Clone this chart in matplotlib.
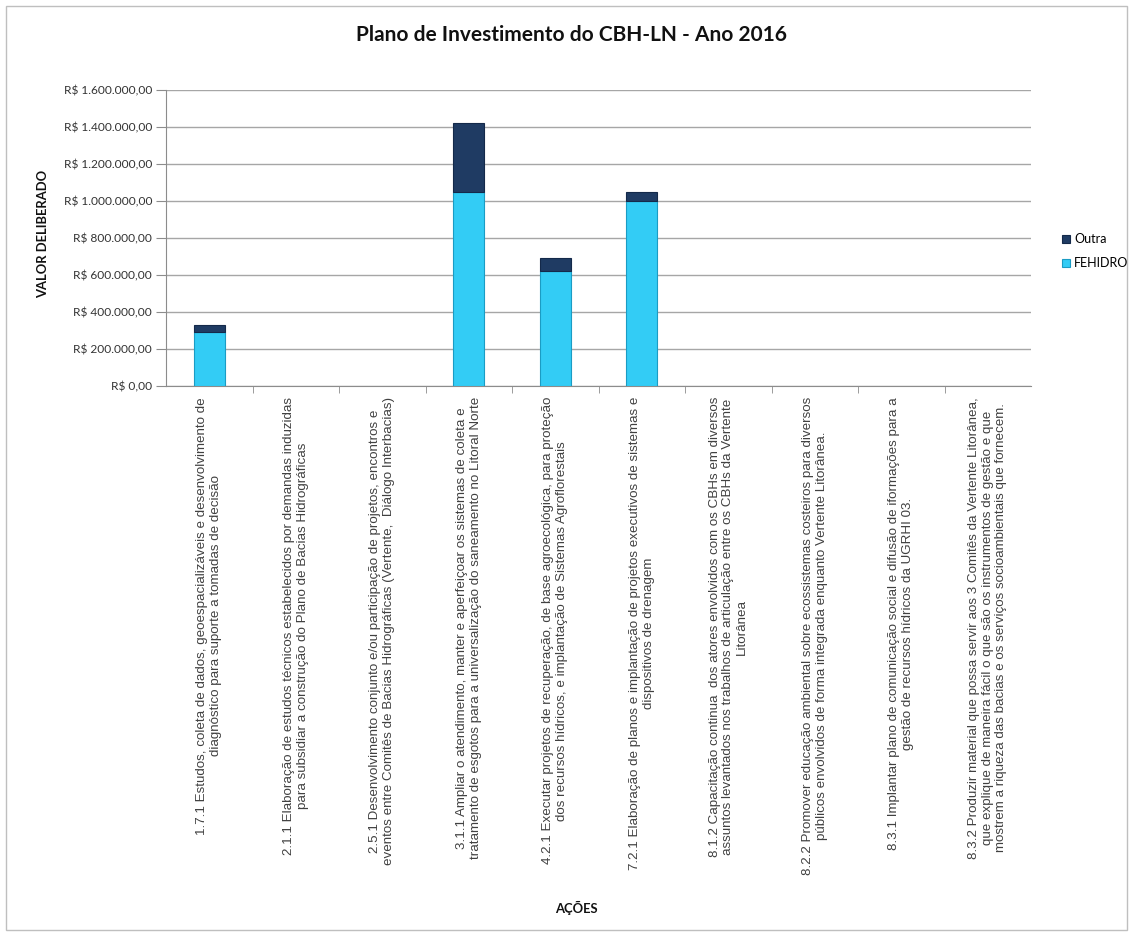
import matplotlib
matplotlib.use("Agg")
import matplotlib.pyplot as plt
from matplotlib.patches import Rectangle
from matplotlib.ticker import FuncFormatter, FixedLocator
import numpy as np

categories = [
    "1.7.1 Estudos, coleta de dados, geoespacializáveis e desenvolvimento de\ndiagnóstico para suporte a tomadas de decisão",
    "2.1.1 Elaboração de estudos técnicos estabelecidos por demandas induzidas\npara subsidiar a construção do Plano de Bacias Hidrográficas",
    "2.5.1 Desenvolvimento conjunto e/ou participação de projetos, encontros e\neventos entre Comitês de Bacias Hidrográficas (Vertente,  Diálogo Interbacias)",
    "3.1.1 Ampliar o atendimento, manter e aperfeiçoar os sistemas de coleta e\ntratamento de esgotos para a universalização do saneamento no Litoral Norte",
    "4.2.1 Executar projetos de recuperação, de base agroecológica, para proteção\ndos recursos hídricos, e implantação de Sistemas Agroflorestais",
    "7.2.1 Elaboração de planos e implantação de projetos executivos de sistemas e\ndispositivos de drenagem",
    "8.1.2 Capacitação continua  dos atores envolvidos com os CBHs em diversos\nassuntos levantados nos trabalhos de articulação entre os CBHs da Vertente\nLitorânea",
    "8.2.2 Promover educação ambiental sobre ecossistemas costeiros para diversos\npúblicos envolvidos de forma integrada enquanto Vertente Litorânea.",
    "8.3.1 Implantar plano de comunicação social e difusão de iformações para a\ngestão de recursos hídricos da UGRHI 03.",
    "8.3.2 Produzir material que possa servir aos 3 Comitês da Vertente Litorânea,\nque explique de maneira fácil o que são os instrumentos de gestão e que\nmostrem a riqueza das bacias e os serviços socioambientais que fornecem.",
]
fehidro = [290000, 0, 0, 1050000, 620000, 1000000, 0, 0, 0, 0]
outra = [40000, 0, 0, 370000, 70000, 50000, 0, 0, 0, 0]
yticks = [0, 200000, 400000, 600000, 800000, 1000000, 1200000, 1400000, 1600000]

W, H = 1133, 936
fig = plt.figure(figsize=(W / 100, H / 100), dpi=100)
fig.patch.set_facecolor("white")
fig.add_artist(Rectangle((6 / W, 6 / H), 1 - 12 / W, 1 - 12 / H, transform=fig.transFigure,
                         fill=False, edgecolor="#BFBFBF", linewidth=1))

ax = fig.add_axes([166 / W, 1 - 386 / H, (1031 - 166) / W, (386 - 90) / H])
x = np.arange(len(categories))
c_fe = "#33CCF5"
c_ou = "#1F3B63"
b1 = ax.bar(x, fehidro, width=0.36, color=c_fe, edgecolor="#1B9CC4", linewidth=0.8,
            label="FEHIDRO", zorder=3)
b2 = ax.bar(x, outra, width=0.36, bottom=fehidro, color=c_ou, edgecolor="#14294A",
            linewidth=0.8, label="Outra", zorder=3)
for bars in (b1, b2):
    for r in bars:
        if r.get_height() == 0:
            r.set_linewidth(0)

ax.set_xlim(-0.5, len(categories) - 0.5)
ax.set_ylim(0, 1600000)
ax.set_yticks(yticks)
ax.yaxis.set_major_formatter(FuncFormatter(
    lambda v, p: "R$ " + f"{v:,.2f}".replace(",", "X").replace(".", ",").replace("X", ".")))
ax.grid(axis="y", color="#A6A6A6", linewidth=1, zorder=0)
ax.set_axisbelow(True)
for s in ["top", "right"]:
    ax.spines[s].set_visible(False)
for s in ["left", "bottom"]:
    ax.spines[s].set_color("#8C8C8C")
ax.tick_params(axis="y", length=7, color="#8C8C8C", labelsize=8.6, pad=3)
for lab in ax.get_yticklabels():
    lab.set_fontfamily("Lato")
    lab.set_color("#333333")

ax.set_xticks(x)
ax.set_xticklabels([])
ax.tick_params(axis="x", which="major", length=0)
ax.xaxis.set_minor_locator(FixedLocator(np.arange(0.5, len(categories) - 0.5, 1)))
ax.tick_params(axis="x", which="minor", length=5, color="#8C8C8C")

for xi, lab in zip(x, categories):
    ax.annotate(lab, xy=(xi, 0), xycoords=("data", "axes fraction"),
                xytext=(0, -8), textcoords="offset points",
                rotation=90, ha="center", va="top", multialignment="center",
                fontsize=9.6, linespacing=1.18, family="Liberation Sans", color="#404040")

fig.text(572 / W, 1 - 35 / H, "Plano de Investimento do CBH-LN - Ano 2016", ha="center",
         va="center", fontsize=15, fontweight="bold", family="Lato", color="#111111")
fig.text(43 / W, 1 - 234 / H, "VALOR DELIBERADO", rotation=90, ha="center", va="center",
         fontsize=9.4, fontweight="bold", family="Lato", color="#111111")
fig.text(576 / W, 1 - 908 / H, "AÇÕES", ha="center", va="center",
         fontsize=9.4, fontweight="bold", family="Lato", color="#111111")

leg = fig.legend(handles=[b2, b1], labels=["Outra", "FEHIDRO"], loc="upper left",
                 bbox_to_anchor=(1051 / W, 1 - 222 / H), frameon=False,
                 handlelength=0.6, handleheight=0.6, handletextpad=0.35,
                 labelspacing=0.95, prop={"family": "Lato", "size": 9})

fig.savefig("out.png", dpi=100, facecolor="white")
